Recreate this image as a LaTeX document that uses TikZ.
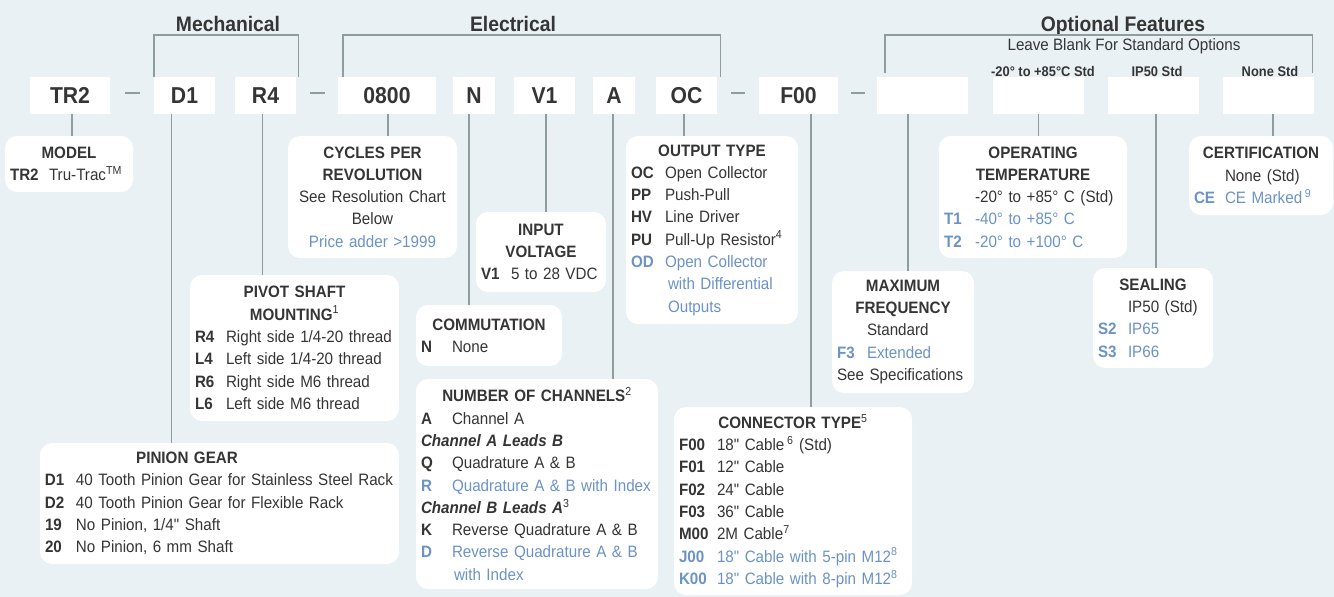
\documentclass[tikz,border=0pt]{standalone}
\usepackage{fontspec}
\setmainfont{Liberation Sans}[FakeStretch=0.92,Ligatures=TeXOff]
\usetikzlibrary{calc}

\definecolor{bgblue}{HTML}{E9F1F5}
\definecolor{linegray}{HTML}{8E9E9E}
\definecolor{txtgray}{HTML}{353535}
\definecolor{optblue}{HTML}{6B93C6}

\newcommand{\bodyfont}{\fontsize{16.5}{22.3}\selectfont}
\newcommand{\partfont}{\fontsize{23}{26}\selectfont\bfseries}
\newcommand{\grpfont}{\fontsize{21}{24}\selectfont\bfseries}
\newcommand{\stdfont}{\fontsize{14}{16}\selectfont\bfseries}
\newcommand{\notefont}{\fontsize{16.5}{20}\selectfont}
% one option row: code column + description
\newcommand{\optrow}[3][31pt]{\makebox[#1][l]{\bfseries #2}#3\par}
\newcommand{\optrowb}[3][31pt]{{\color{optblue}\makebox[#1][l]{\bfseries #2}#3\par}}
\newcommand{\boxtitle}[1]{{\centering\bfseries #1\par}}
\newcommand{\sups}[1]{\textsuperscript{\normalfont #1}}
\newcommand{\inch}{\symbol{34}}

\begin{document}
\begin{tikzpicture}[x=1pt,y=-1pt,
  font=\bodyfont, text=txtgray,
  codebox/.style={fill=white,minimum height=37pt,inner sep=0pt,font=\partfont},
  optbox/.style={fill=white,rounded corners=12pt,inner xsep=5pt,inner ysep=0pt,align=left},
  grplbl/.style={font=\grpfont,anchor=base},
  stdlbl/.style={font=\stdfont,anchor=base},
  conn/.style={draw=linegray,line width=1.4pt},
  dashln/.style={draw=linegray,line width=1.3pt}]
\fill[bgblue] (0,0) rectangle (1334,597);
\useasboundingbox (0,0) rectangle (1334,597);
% group headings
\node[grplbl] (mech) at (228,31) {Mechanical};
\node[grplbl] (elec) at (513,31) {Electrical};
\node[grplbl] (optf) at (1123,31) {Optional Features};
\node[font=\notefont,anchor=base] (blank) at (1124,50) {Leave Blank For Standard Options};
\node[stdlbl] (tstd) at (1043,76) {-20° to +85°C Std};
\node[stdlbl] (ipstd) at (1157,76) {IP50 Std};
\node[stdlbl] (cestd) at (1270,76) {None Std};
% part number row
\node[codebox,minimum width=80pt] (tr2) at (70,95.5)   {TR2};
\node[codebox,minimum width=61pt] (d1)  at (184.5,95.5) {D1};
\node[codebox,minimum width=61pt] (r4)  at (265.5,95.5) {R4};
\node[codebox,minimum width=98pt] (cpr) at (387,95.5)  {0800};
\node[codebox,minimum width=42pt] (n)   at (474,95.5)  {N};
\node[codebox,minimum width=61pt] (v1)  at (544.5,95.5) {V1};
\node[codebox,minimum width=42pt] (a)   at (614,95.5)  {A};
\node[codebox,minimum width=61pt] (oc)  at (686.5,95.5) {OC};
\node[codebox,minimum width=79pt] (f00) at (798.5,95.5) {F00};
\node[codebox,minimum width=91pt] (bl1) at (922.5,95.5) {};
\node[codebox,minimum width=91pt] (bl2) at (1038.5,95.5) {};
\node[codebox,minimum width=91pt] (bl3) at (1153.5,95.5) {};
\node[codebox,minimum width=91pt] (bl4) at (1268.5,95.5) {};
% separators
\draw[dashln] ($(tr2.east)!.5!(d1.west)+(-7.5,-2.5)$) -- ++(15,0);
\draw[dashln] ($(r4.east)!.5!(cpr.west)+(-7.5,-2.5)$) -- ++(15,0);
\draw[dashln] ($(oc.east)!.5!(f00.west)+(-7,-2.5)$) -- ++(14,0);
\draw[dashln] ($(f00.east)!.5!(bl1.west)+(-7,-2.5)$) -- ++(14,0);
% group brackets
\draw[conn] (d1.north west) -- ++(0,-42) -| ([xshift=2pt]r4.north east);
\draw[conn] ([xshift=5pt]cpr.north west) -- ++(0,-42) -| ([xshift=3pt]oc.north east);
\draw[conn] ([xshift=8pt,yshift=4pt]bl1.north west) -- ++(0,-38) -| ([xshift=-2pt,yshift=4pt]bl4.north east);
% option boxes
\node[optbox,text width=118pt,minimum height=56pt] (model) at (69,164) {%
  \boxtitle{MODEL}
  \optrow[39pt]{TR2}{Tru-Trac\sups{TM}}};
\node[optbox,text width=159pt,minimum height=122pt] (cycles) at (372.5,197) {%
  \boxtitle{CYCLES PER\\REVOLUTION}
  {\centering See Resolution Chart\\Below\\\color{optblue}Price adder >1999\par}};
\node[optbox,text width=199pt,minimum height=146pt] (pivot) at (294.5,348) {%
  \boxtitle{PIVOT SHAFT\\MOUNTING\sups{1}}
  \optrow{R4}{Right side 1/4-20 thread}
  \optrow{L4}{Left side 1/4-20 thread}
  \optrow{R6}{Right side M6 thread}
  \optrow{L6}{Left side M6 thread}};
\node[optbox,text width=349pt,minimum height=121pt] (pinion) at (219.5,503.5) {%
  \makebox[284pt]{\bfseries PINION GEAR}\par
  \optrow{D1}{40 Tooth Pinion Gear for Stainless Steel Rack}
  \optrow{D2}{40 Tooth Pinion Gear for Flexible Rack}
  \optrow{19}{No Pinion, 1/4\inch{} Shaft}
  \optrow{20}{No Pinion, 6 mm Shaft}};
\node[optbox,text width=120pt,minimum height=80pt] (input) at (541,252) {%
  \boxtitle{INPUT\\VOLTAGE}
  \optrow[30pt]{V1}{5 to 28 VDC}};
\node[optbox,text width=136pt,minimum height=61pt] (commut) at (489,335.5) {%
  \boxtitle{COMMUTATION}
  \optrow{N}{None}};
\node[optbox,text width=232pt,minimum height=210pt] (chan) at (537,484) {%
  \boxtitle{NUMBER OF CHANNELS\sups{2}}
  \optrow{A}{Channel A}
  \textbf{\textit{Channel A Leads B}}\par
  \optrow{Q}{Quadrature A \& B}
  \optrowb{R}{Quadrature A \& B with Index}
  \textbf{\textit{Channel B Leads A}}\sups{3}\par
  \optrow{K}{Reverse Quadrature A \& B}
  \optrowb{D}{Reverse Quadrature A \& B}
  {\color{optblue}\hspace*{33pt}with Index\par}};
\node[optbox,text width=162pt,minimum height=188pt] (output) at (712,230) {%
  \boxtitle{OUTPUT TYPE}
  \optrow[34pt]{OC}{Open Collector}
  \optrow[34pt]{PP}{Push-Pull}
  \optrow[34pt]{HV}{Line Driver}
  \optrow[34pt]{PU}{Pull-Up Resistor\sups{4}}
  \optrowb[34pt]{OD}{Open Collector}
  {\color{optblue}\hspace*{37pt}with Differential\\\hspace*{37pt}Outputs\par}};
\node[optbox,text width=228pt,minimum height=188pt] (conntype) at (793,501) {%
  \boxtitle{CONNECTOR TYPE\sups{5}}
  \optrow[38pt]{F00}{18\inch{} Cable\,\sups{6} (Std)}
  \optrow[38pt]{F01}{12\inch{} Cable}
  \optrow[38pt]{F02}{24\inch{} Cable}
  \optrow[38pt]{F03}{36\inch{} Cable}
  \optrow[38pt]{M00}{2M Cable\sups{7}}
  \optrowb[38pt]{J00}{18\inch{} Cable with 5-pin M12\sups{8}}
  \optrowb[38pt]{K00}{18\inch{} Cable with 8-pin M12\sups{8}}};
\node[optbox,text width=132pt,minimum height=122pt] (maxfreq) at (903,332) {%
  \boxtitle{MAXIMUM\\FREQUENCY}
  \hspace*{30pt}Standard\par
  \optrowb[30pt]{F3}{Extended}
  See Specifications\par};
\node[optbox,text width=178pt,minimum height=122pt] (optemp) at (1033,197) {%
  \boxtitle{OPERATING\\TEMPERATURE}
  \hspace*{31pt}-20° to +85° C (Std)\par
  \optrowb{T1}{-40° to +85° C}
  \optrowb{T2}{-20° to +100° C}};
\node[optbox,text width=110pt,minimum height=100pt] (sealing) at (1153,318) {%
  \boxtitle{SEALING}
  \hspace*{30pt}IP50 (Std)\par
  \optrowb[30pt]{S2}{IP65}
  \optrowb[30pt]{S3}{IP66}};
\node[optbox,text width=134pt,minimum height=79pt] (cert) at (1261,175.5) {%
  \boxtitle{CERTIFICATION}
  \hspace*{31pt}None (Std)\par
  \optrowb{CE}{CE Marked\,\sups{9}}};
% leaders from code to option box
\draw[conn] ([xshift=2pt]tr2.south) -- ([xshift=2pt]tr2.south |- model.north);
\draw[conn] ([xshift=-13pt]d1.south) -- ([xshift=-13pt]d1.south |- pinion.north);
\draw[conn] ([xshift=-3pt]r4.south) -- ([xshift=-3pt]r4.south |- pivot.north);
\draw[conn] ([xshift=1pt]cpr.south) -- ([xshift=1pt]cpr.south |- cycles.north);
\draw[conn] ([xshift=-5pt]n.south) -- ([xshift=-5pt]n.south |- commut.north);
\draw[conn] ([xshift=1.5pt]v1.south) -- ([xshift=1.5pt]v1.south |- input.north);
\draw[conn] ([xshift=-1pt]a.south) -- ([xshift=-1pt]a.south |- chan.north);
\draw[conn] ([xshift=-2.5pt]oc.south) -- ([xshift=-2.5pt]oc.south |- output.north);
\draw[conn] ([xshift=12.5pt]f00.south) -- ([xshift=12.5pt]f00.south |- conntype.north);
\draw[conn] ([xshift=-14.5pt]bl1.south) -- ([xshift=-14.5pt]bl1.south |- maxfreq.north);
\draw[conn] (bl2.south) -- (bl2.south |- optemp.north);
\draw[conn] ([xshift=2.5pt]bl3.south) -- ([xshift=2.5pt]bl3.south |- sealing.north);
\draw[conn] ([xshift=4.5pt]bl4.south) -- ([xshift=4.5pt]bl4.south |- cert.north);
\end{tikzpicture}
\end{document}
